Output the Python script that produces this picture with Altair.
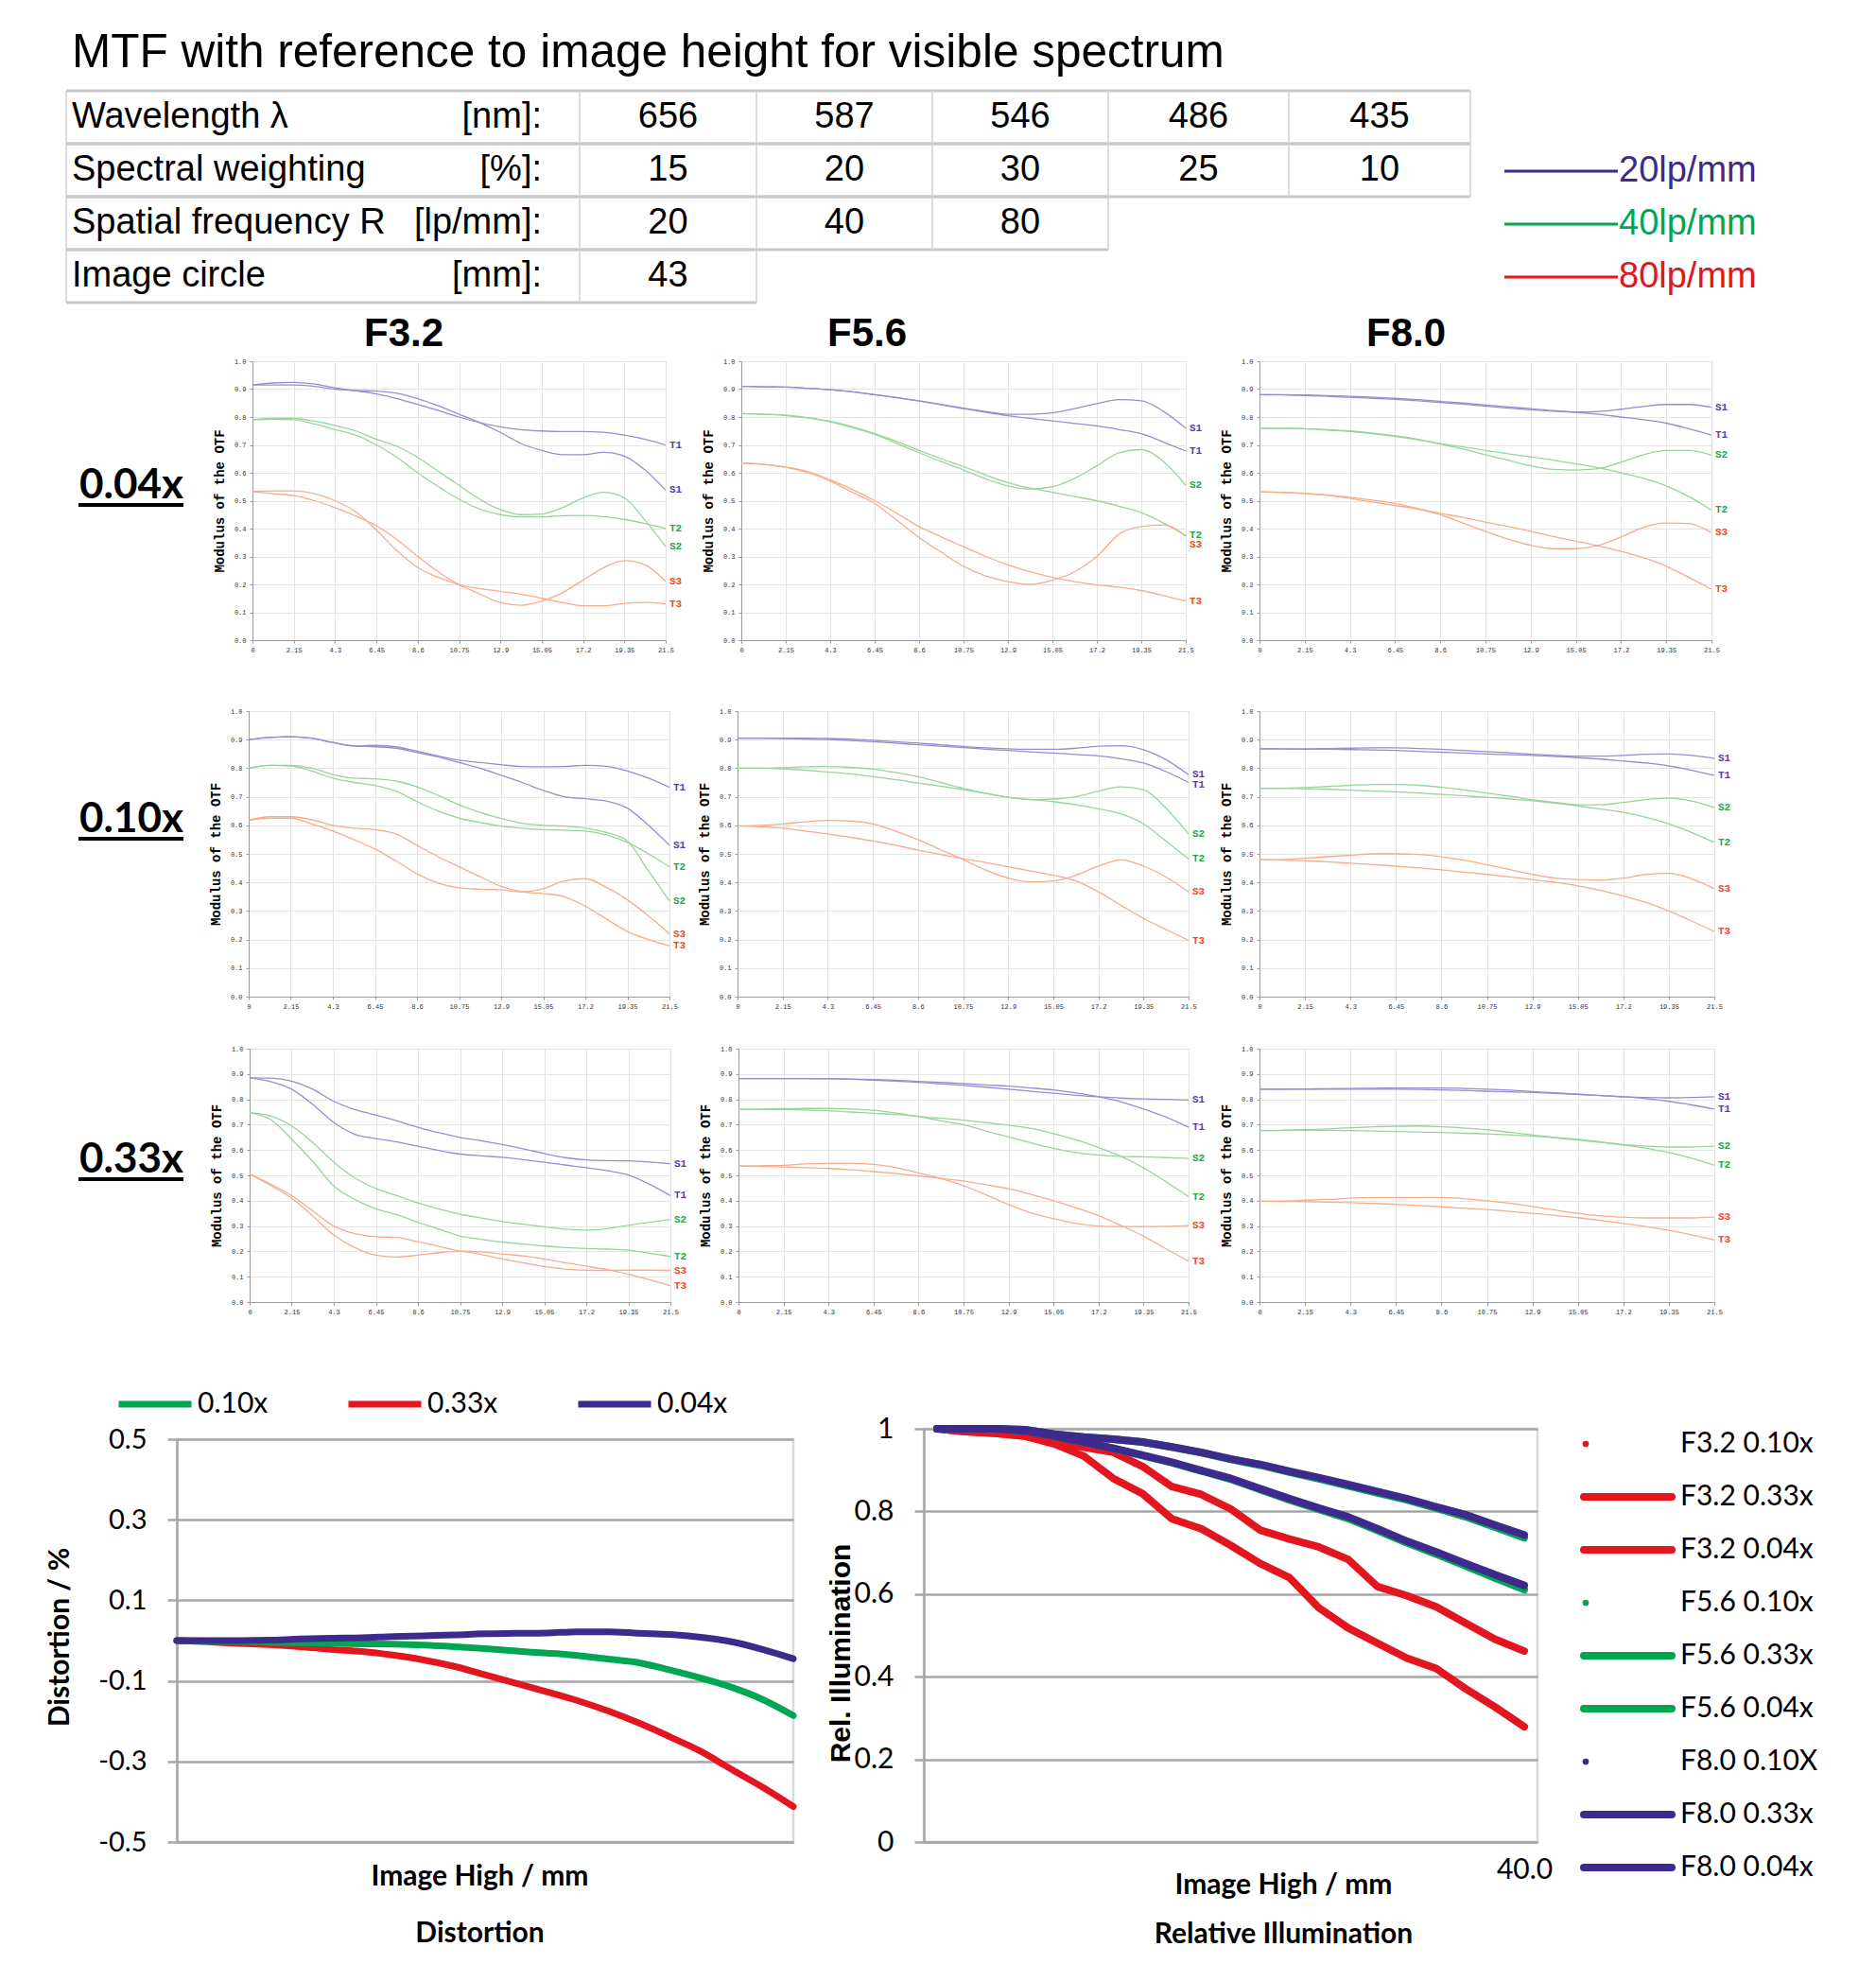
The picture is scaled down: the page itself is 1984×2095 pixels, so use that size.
import altair as alt
import pandas as pd

# ------------------------------------------------------------------ data
TITLE = "MTF with reference to image height for visible spectrum"
TABLE_LABELS = ["Wavelength λ", "Spectral weighting", "Spatial frequency R", "Image circle"]
TABLE_UNITS = ["[nm]:", "[%]:", "[lp/mm]:", "[mm]:"]
WAVELENGTHS = [656, 587, 546, 486, 435]
WEIGHTS = [15, 20, 30, 25, 10]
FREQUENCIES = [20, 40, 80]
IMAGE_CIRCLE = [43]
FREQ_LEGEND = ["20lp/mm", "40lp/mm", "80lp/mm"]
APERTURES = ["F3.2", "F5.6", "F8.0"]
MAGS = ["0.04x", "0.10x", "0.33x"]
CURVES = ["S1", "T1", "S2", "T2", "S3", "T3"]

IMAGE_HEIGHT = [0, 1.075, 2.15, 3.225, 4.3, 5.375, 6.45, 7.525, 8.6, 9.675, 10.75,
                11.825, 12.9, 13.975, 15.05, 16.125, 17.2, 18.275, 19.35, 20.425, 21.5]
X_TICKS = [0, 2.15, 4.3, 6.45, 8.6, 10.75, 12.9, 15.05, 17.2, 19.35, 21.5]
Y_TICKS = [0, 0.1, 0.2, 0.3, 0.4, 0.5, 0.6, 0.7, 0.8, 0.9, 1.0]

# F3.2 0.04x
F32_004_S1 = [0.915, 0.922, 0.924, 0.918, 0.905, 0.895, 0.893, 0.885, 0.866, 0.84, 0.81, 0.78, 0.745, 0.705, 0.68, 0.665, 0.665, 0.673, 0.66, 0.61, 0.538]
F32_004_T1 = [0.915, 0.915, 0.915, 0.91, 0.9, 0.894, 0.883, 0.866, 0.845, 0.823, 0.8, 0.78, 0.765, 0.755, 0.75, 0.748, 0.748, 0.745, 0.735, 0.72, 0.70]
F32_004_S2 = [0.79, 0.795, 0.795, 0.785, 0.77, 0.75, 0.72, 0.695, 0.655, 0.605, 0.555, 0.505, 0.468, 0.45, 0.452, 0.475, 0.51, 0.53, 0.51, 0.43, 0.335]
F32_004_T2 = [0.79, 0.792, 0.79, 0.775, 0.755, 0.735, 0.70, 0.655, 0.60, 0.55, 0.505, 0.47, 0.45, 0.442, 0.442, 0.446, 0.447, 0.443, 0.433, 0.418, 0.40]
F32_004_S3 = [0.533, 0.535, 0.535, 0.525, 0.50, 0.46, 0.395, 0.32, 0.26, 0.225, 0.198, 0.165, 0.135, 0.125, 0.14, 0.17, 0.215, 0.26, 0.285, 0.27, 0.21]
F32_004_T3 = [0.533, 0.525, 0.518, 0.50, 0.475, 0.445, 0.41, 0.36, 0.30, 0.245, 0.2, 0.185, 0.175, 0.165, 0.15, 0.135, 0.123, 0.123, 0.132, 0.135, 0.13]
# F5.6 0.04x
F56_004_S1 = [0.91, 0.908, 0.907, 0.903, 0.898, 0.89, 0.88, 0.87, 0.858, 0.845, 0.832, 0.82, 0.81, 0.81, 0.815, 0.83, 0.848, 0.862, 0.858, 0.82, 0.76]
F56_004_T1 = [0.91, 0.908, 0.907, 0.903, 0.898, 0.89, 0.88, 0.869, 0.857, 0.844, 0.83, 0.817, 0.805, 0.795, 0.786, 0.777, 0.768, 0.755, 0.74, 0.71, 0.678]
F56_004_S2 = [0.812, 0.81, 0.806, 0.797, 0.783, 0.762, 0.738, 0.705, 0.672, 0.64, 0.61, 0.578, 0.553, 0.542, 0.55, 0.58, 0.625, 0.672, 0.683, 0.64, 0.555]
F56_004_T2 = [0.812, 0.81, 0.806, 0.797, 0.785, 0.765, 0.74, 0.712, 0.68, 0.65, 0.622, 0.592, 0.565, 0.545, 0.53, 0.515, 0.5, 0.48, 0.457, 0.42, 0.375]
F56_004_S3 = [0.635, 0.63, 0.62, 0.6, 0.57, 0.53, 0.49, 0.43, 0.368, 0.315, 0.265, 0.23, 0.21, 0.2, 0.215, 0.245, 0.30, 0.38, 0.407, 0.413, 0.373]
F56_004_T3 = [0.635, 0.63, 0.62, 0.605, 0.575, 0.54, 0.5, 0.455, 0.407, 0.37, 0.335, 0.3, 0.27, 0.245, 0.225, 0.21, 0.198, 0.19, 0.178, 0.16, 0.14]
# F8.0 0.04x
F80_004_S1 = [0.88, 0.88, 0.879, 0.877, 0.874, 0.871, 0.867, 0.862, 0.856, 0.85, 0.843, 0.836, 0.83, 0.823, 0.818, 0.82, 0.828, 0.838, 0.845, 0.845, 0.835]
F80_004_T1 = [0.88, 0.879, 0.877, 0.874, 0.871, 0.867, 0.863, 0.858, 0.852, 0.846, 0.839, 0.832, 0.826, 0.821, 0.817, 0.81, 0.80, 0.79, 0.778, 0.758, 0.735]
F80_004_S2 = [0.76, 0.76, 0.758, 0.753, 0.748, 0.74, 0.73, 0.718, 0.703, 0.685, 0.665, 0.645, 0.625, 0.612, 0.61, 0.615, 0.638, 0.665, 0.68, 0.68, 0.663]
F80_004_T2 = [0.76, 0.76, 0.758, 0.755, 0.75, 0.742, 0.733, 0.72, 0.705, 0.693, 0.68, 0.668, 0.657, 0.645, 0.632, 0.618, 0.60, 0.58, 0.553, 0.515, 0.467]
F80_004_S3 = [0.532, 0.53, 0.527, 0.52, 0.508, 0.495, 0.483, 0.47, 0.45, 0.42, 0.39, 0.362, 0.34, 0.328, 0.328, 0.34, 0.37, 0.405, 0.42, 0.418, 0.385]
F80_004_T3 = [0.532, 0.53, 0.525, 0.52, 0.512, 0.502, 0.49, 0.472, 0.455, 0.44, 0.423, 0.408, 0.39, 0.372, 0.355, 0.338, 0.318, 0.295, 0.265, 0.225, 0.183]
# F3.2 0.10x
F32_010_S1 = [0.90, 0.908, 0.91, 0.905, 0.89, 0.878, 0.875, 0.87, 0.855, 0.84, 0.82, 0.80, 0.775, 0.75, 0.722, 0.70, 0.693, 0.685, 0.66, 0.60, 0.53]
F32_010_T1 = [0.90, 0.908, 0.91, 0.905, 0.89, 0.878, 0.88, 0.875, 0.86, 0.843, 0.828, 0.82, 0.812, 0.806, 0.805, 0.806, 0.81, 0.807, 0.79, 0.765, 0.733]
F32_010_S2 = [0.80, 0.81, 0.81, 0.80, 0.778, 0.765, 0.763, 0.755, 0.735, 0.705, 0.672, 0.645, 0.624, 0.607, 0.60, 0.597, 0.59, 0.575, 0.545, 0.44, 0.335]
F32_010_T2 = [0.80, 0.81, 0.808, 0.79, 0.765, 0.75, 0.74, 0.72, 0.683, 0.65, 0.625, 0.61, 0.597, 0.59, 0.585, 0.583, 0.58, 0.567, 0.54, 0.50, 0.455]
F32_010_S3 = [0.618, 0.625, 0.625, 0.605, 0.58, 0.55, 0.517, 0.475, 0.43, 0.398, 0.381, 0.376, 0.374, 0.367, 0.378, 0.405, 0.413, 0.383, 0.339, 0.283, 0.22]
F32_010_T3 = [0.618, 0.63, 0.63, 0.62, 0.60, 0.59, 0.585, 0.57, 0.53, 0.49, 0.455, 0.42, 0.386, 0.367, 0.361, 0.35, 0.317, 0.272, 0.228, 0.2, 0.178]
# F5.6 0.10x
F56_010_S1 = [0.905, 0.905, 0.905, 0.905, 0.904, 0.902, 0.898, 0.893, 0.888, 0.882, 0.876, 0.871, 0.868, 0.866, 0.866, 0.87, 0.877, 0.879, 0.865, 0.83, 0.777]
F56_010_T1 = [0.905, 0.905, 0.904, 0.902, 0.9, 0.897, 0.893, 0.888, 0.882, 0.877, 0.872, 0.866, 0.862, 0.857, 0.853, 0.848, 0.843, 0.833, 0.818, 0.788, 0.75]
F56_010_S2 = [0.80, 0.80, 0.802, 0.805, 0.806, 0.803, 0.797, 0.785, 0.77, 0.75, 0.73, 0.712, 0.698, 0.69, 0.692, 0.70, 0.72, 0.735, 0.725, 0.66, 0.57]
F56_010_T2 = [0.80, 0.80, 0.798, 0.793, 0.787, 0.78, 0.77, 0.76, 0.748, 0.737, 0.725, 0.712, 0.698, 0.69, 0.683, 0.672, 0.658, 0.64, 0.605, 0.545, 0.482]
F56_010_S3 = [0.598, 0.60, 0.605, 0.612, 0.617, 0.615, 0.605, 0.58, 0.55, 0.515, 0.48, 0.443, 0.415, 0.402, 0.405, 0.425, 0.457, 0.479, 0.457, 0.419, 0.367]
F56_010_T3 = [0.598, 0.595, 0.59, 0.58, 0.57, 0.558, 0.545, 0.53, 0.513, 0.498, 0.483, 0.47, 0.455, 0.44, 0.425, 0.405, 0.367, 0.32, 0.274, 0.235, 0.197]
# F8.0 0.10x
F80_010_S1 = [0.868, 0.868, 0.868, 0.869, 0.87, 0.871, 0.871, 0.869, 0.866, 0.862, 0.858, 0.854, 0.849, 0.845, 0.842, 0.842, 0.845, 0.849, 0.85, 0.845, 0.835]
F80_010_T1 = [0.868, 0.867, 0.866, 0.866, 0.865, 0.864, 0.862, 0.859, 0.856, 0.853, 0.85, 0.847, 0.845, 0.841, 0.837, 0.832, 0.825, 0.818, 0.808, 0.793, 0.775]
F80_010_S2 = [0.73, 0.73, 0.732, 0.736, 0.74, 0.743, 0.743, 0.74, 0.733, 0.724, 0.713, 0.702, 0.69, 0.68, 0.672, 0.672, 0.68, 0.69, 0.695, 0.685, 0.662]
F80_010_T2 = [0.73, 0.73, 0.728, 0.726, 0.723, 0.72, 0.717, 0.713, 0.708, 0.703, 0.698, 0.692, 0.686, 0.678, 0.668, 0.657, 0.645, 0.628, 0.605, 0.575, 0.54]
F80_010_S3 = [0.48, 0.48, 0.485, 0.49, 0.495, 0.50, 0.50, 0.498, 0.49, 0.478, 0.462, 0.445, 0.428, 0.415, 0.41, 0.408, 0.415, 0.428, 0.432, 0.413, 0.378]
F80_010_T3 = [0.48, 0.478, 0.476, 0.472, 0.467, 0.462, 0.457, 0.451, 0.444, 0.436, 0.428, 0.419, 0.41, 0.40, 0.388, 0.372, 0.352, 0.33, 0.30, 0.265, 0.228]
# F3.2 0.33x
F32_033_S1 = [0.885, 0.884, 0.872, 0.84, 0.792, 0.76, 0.738, 0.715, 0.69, 0.668, 0.65, 0.637, 0.622, 0.605, 0.586, 0.57, 0.561, 0.558, 0.557, 0.553, 0.546]
F32_033_T1 = [0.885, 0.87, 0.84, 0.78, 0.709, 0.662, 0.645, 0.632, 0.615, 0.598, 0.584, 0.577, 0.571, 0.562, 0.552, 0.541, 0.53, 0.518, 0.501, 0.465, 0.42]
F32_033_S2 = [0.748, 0.735, 0.695, 0.63, 0.552, 0.49, 0.448, 0.42, 0.391, 0.367, 0.347, 0.332, 0.318, 0.307, 0.297, 0.288, 0.284, 0.29, 0.303, 0.315, 0.325]
F32_033_T2 = [0.748, 0.72, 0.643, 0.555, 0.458, 0.405, 0.368, 0.345, 0.315, 0.288, 0.261, 0.248, 0.237, 0.229, 0.221, 0.215, 0.211, 0.209, 0.205, 0.193, 0.18]
F32_033_S3 = [0.505, 0.46, 0.41, 0.34, 0.265, 0.215, 0.185, 0.178, 0.185, 0.195, 0.2, 0.188, 0.17, 0.155, 0.14, 0.13, 0.126, 0.125, 0.126, 0.126, 0.125]
F32_033_T3 = [0.505, 0.465, 0.42, 0.36, 0.30, 0.27, 0.258, 0.255, 0.238, 0.22, 0.202, 0.198, 0.19, 0.182, 0.17, 0.155, 0.142, 0.128, 0.11, 0.088, 0.065]
# F5.6 0.33x
F56_033_S1 = [0.882, 0.882, 0.882, 0.882, 0.881, 0.879, 0.876, 0.872, 0.867, 0.861, 0.855, 0.848, 0.84, 0.832, 0.824, 0.816, 0.81, 0.805, 0.802, 0.80, 0.797]
F56_033_T1 = [0.882, 0.882, 0.882, 0.882, 0.882, 0.88, 0.878, 0.875, 0.871, 0.867, 0.862, 0.857, 0.852, 0.845, 0.837, 0.825, 0.81, 0.79, 0.762, 0.73, 0.69]
F56_033_S2 = [0.76, 0.76, 0.76, 0.758, 0.755, 0.75, 0.745, 0.74, 0.732, 0.715, 0.70, 0.675, 0.652, 0.628, 0.607, 0.59, 0.58, 0.575, 0.573, 0.57, 0.567]
F56_033_T2 = [0.76, 0.762, 0.763, 0.764, 0.764, 0.762, 0.757, 0.746, 0.733, 0.725, 0.718, 0.708, 0.698, 0.685, 0.665, 0.64, 0.61, 0.575, 0.53, 0.475, 0.416]
F56_033_S3 = [0.537, 0.538, 0.54, 0.545, 0.547, 0.547, 0.543, 0.53, 0.51, 0.487, 0.459, 0.423, 0.385, 0.352, 0.329, 0.31, 0.30, 0.298, 0.298, 0.299, 0.302]
F56_033_T3 = [0.537, 0.535, 0.533, 0.53, 0.527, 0.522, 0.515, 0.507, 0.498, 0.488, 0.478, 0.463, 0.447, 0.425, 0.40, 0.372, 0.341, 0.302, 0.26, 0.21, 0.162]
# F8.0 0.33x
F80_033_S1 = [0.84, 0.84, 0.841, 0.842, 0.843, 0.844, 0.845, 0.845, 0.845, 0.843, 0.84, 0.836, 0.831, 0.826, 0.82, 0.815, 0.81, 0.807, 0.806, 0.807, 0.81]
F80_033_T1 = [0.84, 0.84, 0.84, 0.84, 0.84, 0.84, 0.84, 0.839, 0.837, 0.835, 0.832, 0.83, 0.827, 0.823, 0.82, 0.815, 0.81, 0.803, 0.792, 0.778, 0.762]
F80_033_S2 = [0.677, 0.678, 0.68, 0.683, 0.688, 0.692, 0.694, 0.695, 0.692, 0.687, 0.68, 0.67, 0.66, 0.65, 0.642, 0.632, 0.622, 0.615, 0.612, 0.612, 0.615]
F80_033_T2 = [0.677, 0.677, 0.678, 0.678, 0.677, 0.675, 0.673, 0.671, 0.669, 0.666, 0.664, 0.66, 0.655, 0.648, 0.64, 0.63, 0.62, 0.607, 0.59, 0.568, 0.54]
F80_033_S3 = [0.398, 0.399, 0.402, 0.405, 0.41, 0.413, 0.413, 0.413, 0.413, 0.408, 0.40, 0.39, 0.377, 0.363, 0.35, 0.34, 0.335, 0.332, 0.332, 0.332, 0.335]
F80_033_T3 = [0.398, 0.397, 0.396, 0.394, 0.392, 0.389, 0.386, 0.381, 0.376, 0.37, 0.365, 0.358, 0.35, 0.342, 0.333, 0.322, 0.31, 0.298, 0.283, 0.265, 0.245]

# Distortion (%) vs image height
DIST_SERIES = ["0.10x", "0.33x", "0.04x"]
DIST_010 = [0, -0.001, -0.002, -0.004, -0.005, -0.007, -0.008, -0.009, -0.011, -0.015, -0.02, -0.026, -0.031, -0.037, -0.046, -0.055, -0.073, -0.093, -0.116, -0.146, -0.186]
DIST_033 = [0, -0.003, -0.007, -0.010, -0.015, -0.022, -0.027, -0.036, -0.048, -0.064, -0.085, -0.106, -0.127, -0.149, -0.175, -0.205, -0.239, -0.275, -0.32, -0.364, -0.412]
DIST_004 = [0, 0, 0, 0.001, 0.004, 0.006, 0.007, 0.010, 0.012, 0.014, 0.017, 0.018, 0.019, 0.022, 0.022, 0.018, 0.015, 0.008, -0.003, -0.022, -0.045]

# Relative illumination vs image height
RI_HEIGHT = [0, 2, 4, 6, 8, 10, 12, 14, 16, 18, 20, 22, 24, 26, 28, 30, 32, 34, 36, 38, 40]
RI_F32_004 = [1.0, 0.993, 0.989, 0.982, 0.970, 0.955, 0.943, 0.909, 0.860, 0.841, 0.806, 0.755, 0.733, 0.714, 0.684, 0.618, 0.596, 0.569, 0.530, 0.491, 0.462]
RI_F32_033 = [1.0, 0.993, 0.989, 0.982, 0.963, 0.934, 0.880, 0.843, 0.782, 0.758, 0.718, 0.674, 0.640, 0.567, 0.518, 0.481, 0.445, 0.420, 0.371, 0.327, 0.279]
RI_F56_004 = [1.0, 1.0, 1.0, 0.998, 0.987, 0.980, 0.975, 0.968, 0.956, 0.942, 0.926, 0.912, 0.895, 0.879, 0.862, 0.845, 0.828, 0.808, 0.787, 0.762, 0.736]
RI_F56_033 = [1.0, 1.0, 1.0, 0.995, 0.982, 0.968, 0.953, 0.935, 0.918, 0.898, 0.878, 0.853, 0.828, 0.805, 0.783, 0.754, 0.724, 0.697, 0.668, 0.639, 0.611]
RI_F80_004 = [1.0, 1.0, 1.0, 0.998, 0.987, 0.980, 0.975, 0.968, 0.956, 0.943, 0.927, 0.914, 0.897, 0.882, 0.865, 0.848, 0.831, 0.811, 0.792, 0.767, 0.743]
RI_F80_033 = [1.0, 1.0, 1.0, 0.995, 0.982, 0.968, 0.953, 0.936, 0.919, 0.899, 0.880, 0.855, 0.831, 0.808, 0.787, 0.758, 0.728, 0.702, 0.674, 0.647, 0.621]
RI_LEGEND = ["F3.2 0.10x", "F3.2 0.33x", "F3.2 0.04x", "F5.6 0.10x", "F5.6 0.33x",
             "F5.6 0.04x", "F8.0 0.10X", "F8.0 0.33x", "F8.0 0.04x"]

MTF = {
    ("F3.2", "0.04x"): [F32_004_S1, F32_004_T1, F32_004_S2, F32_004_T2, F32_004_S3, F32_004_T3],
    ("F5.6", "0.04x"): [F56_004_S1, F56_004_T1, F56_004_S2, F56_004_T2, F56_004_S3, F56_004_T3],
    ("F8.0", "0.04x"): [F80_004_S1, F80_004_T1, F80_004_S2, F80_004_T2, F80_004_S3, F80_004_T3],
    ("F3.2", "0.10x"): [F32_010_S1, F32_010_T1, F32_010_S2, F32_010_T2, F32_010_S3, F32_010_T3],
    ("F5.6", "0.10x"): [F56_010_S1, F56_010_T1, F56_010_S2, F56_010_T2, F56_010_S3, F56_010_T3],
    ("F8.0", "0.10x"): [F80_010_S1, F80_010_T1, F80_010_S2, F80_010_T2, F80_010_S3, F80_010_T3],
    ("F3.2", "0.33x"): [F32_033_S1, F32_033_T1, F32_033_S2, F32_033_T2, F32_033_S3, F32_033_T3],
    ("F5.6", "0.33x"): [F56_033_S1, F56_033_T1, F56_033_S2, F56_033_T2, F56_033_S3, F56_033_T3],
    ("F8.0", "0.33x"): [F80_033_S1, F80_033_T1, F80_033_S2, F80_033_T2, F80_033_S3, F80_033_T3],
}

# ------------------------------------------------------------------ styles / layout (page pixels)
PURPLE, GREEN, RED = "#3d2a8c", "#00a651", "#e3151e"
MTF_LINE = {"1": "#9a8cd0", "2": "#98d49c", "3": "#f5ad8c"}
MTF_LABEL = {"1": "#5a3ea6", "2": "#25a84a", "3": "#f04a26"}
SANS, MONO, CAL = "Liberation Sans", "Liberation Mono", "Lato"
AX_GRAY = "#a6a6a6"
NO_FRAME = alt.ViewBackground(stroke="transparent", strokeWidth=0)

HW, HH = 1960, 374
COL_EDGES = [59, 602, 789, 975, 1161, 1352, 1544]
ROW_EDGES = [88, 144, 200, 256, 312]
PANEL_LEFT = [[264, 781, 1329], [260, 777, 1329], [261, 778, 1329]]
PANEL_W = [[437, 470, 478], [445, 477, 481], [445, 476, 481]]
ROW_H = [295, 302, 268]
ROW_GAP_AFTER = [75, 55, 134]
ROW_LABEL_Y = [132, 115, 118]


def pxs(n):
    return alt.Scale(domain=[0, n], range=[0, n], nice=False, zero=False)


def spacer(w, h):
    return alt.Chart(pd.DataFrame({"a": [0]})).mark_point(opacity=0).encode(
        x=alt.X("a:Q", axis=None), y=alt.Y("a:Q", axis=None)
    ).properties(width=w, height=h, view=NO_FRAME)


def indep(c):
    return c.resolve_scale(x="independent", y="independent", color="independent")


# ------------------------------------------------------------------ header
row_values = [WAVELENGTHS, WEIGHTS, FREQUENCIES, IMAGE_CIRCLE]
hl, vl, t_left, t_right, t_mid = [], [], [], [], []
for r, vals in enumerate(row_values):
    n = 1 + len(vals)
    top, bot = ROW_EDGES[r], ROW_EDGES[r + 1]
    cy = (top + bot) / 2
    hl.append({"x": COL_EDGES[0], "x2": COL_EDGES[n], "y": top})
    hl.append({"x": COL_EDGES[0], "x2": COL_EDGES[n], "y": bot})
    for c in range(n + 1):
        vl.append({"x": COL_EDGES[c], "y": top, "y2": bot})
    t_left.append({"x": COL_EDGES[0] + 6, "y": cy, "t": TABLE_LABELS[r]})
    t_right.append({"x": COL_EDGES[1] - 40, "y": cy, "t": TABLE_UNITS[r]})
    for c, v in enumerate(vals):
        t_mid.append({"x": (COL_EDGES[c + 1] + COL_EDGES[c + 2]) / 2, "y": cy, "t": str(v)})

X = lambda: alt.X("x:Q", scale=pxs(HW), axis=None)
Y = lambda: alt.Y("y:Q", scale=pxs(HH), axis=None)

title_l = alt.Chart(pd.DataFrame([{"x": 65, "y": 48, "t": TITLE}])).mark_text(
    align="left", baseline="middle", font=SANS, fontSize=49.5, color="black"
).encode(x=X(), y=Y(), text="t:N")
hl_l = alt.Chart(pd.DataFrame(hl)).mark_rule(color="#c9c9c9", strokeWidth=3).encode(x=X(), x2="x2:Q", y=Y())
vl_l = alt.Chart(pd.DataFrame(vl)).mark_rule(color="#d2d2d2", strokeWidth=1.5).encode(x=X(), y=Y(), y2="y2:Q")
tl_l = alt.Chart(pd.DataFrame(t_left)).mark_text(align="left", baseline="middle", font=SANS, fontSize=38, color="black").encode(x=X(), y=Y(), text="t:N")
tr_l = alt.Chart(pd.DataFrame(t_right)).mark_text(align="right", baseline="middle", font=SANS, fontSize=38, color="black").encode(x=X(), y=Y(), text="t:N")
tm_l = alt.Chart(pd.DataFrame(t_mid)).mark_text(align="center", baseline="middle", font=SANS, fontSize=38, color="black").encode(x=X(), y=Y(), text="t:N")

leg_cols = [PURPLE, GREEN, RED]
leg_y = [173, 229, 285]
leg_lines = pd.DataFrame([{"x": 1580, "x2": 1700, "y": leg_y[i], "c": leg_cols[i]} for i in range(3)])
leg_text = pd.DataFrame([{"x": 1701, "y": leg_y[i], "t": FREQ_LEGEND[i], "c": leg_cols[i]} for i in range(3)])
ll_l = alt.Chart(leg_lines).mark_rule(strokeWidth=3).encode(x=X(), x2="x2:Q", y=Y(), color=alt.Color("c:N", scale=None))
lt_l = alt.Chart(leg_text).mark_text(align="left", baseline="middle", font=SANS, fontSize=38).encode(
    x=X(), y=Y(), text="t:N", color=alt.Color("c:N", scale=None))
col_hdr = pd.DataFrame([{"x": x, "y": 345, "t": a} for x, a in zip([416, 906, 1476], APERTURES)])
ch_l = alt.Chart(col_hdr).mark_text(align="center", baseline="middle", font=SANS, fontSize=42, fontWeight="bold", color="black").encode(x=X(), y=Y(), text="t:N")

header = alt.layer(title_l, hl_l, vl_l, tl_l, tr_l, tm_l, ll_l, lt_l, ch_l).properties(
    width=HW, height=HH, view=NO_FRAME)


# ------------------------------------------------------------------ MTF panels
def row_label(mag, w, h, cy):
    t = alt.Chart(pd.DataFrame([{"x": 128, "y": cy, "t": mag}])).mark_text(
        align="center", baseline="middle", font=CAL, fontSize=44, fontWeight="bold", color="black"
    ).encode(x=alt.X("x:Q", scale=pxs(w), axis=None), y=alt.Y("y:Q", scale=pxs(h), axis=None), text="t:N")
    u = alt.Chart(pd.DataFrame([{"x": 72, "x2": 183, "y": cy + 20}])).mark_rule(strokeWidth=4, color="black").encode(
        x=alt.X("x:Q", scale=pxs(w), axis=None), x2="x2:Q", y=alt.Y("y:Q", scale=pxs(h), axis=None))
    return alt.layer(t, u).properties(width=w, height=h, view=NO_FRAME)


def mtf_panel(ap, mag, w, h):
    curves = MTF[(ap, mag)]
    rows = []
    for name, vals in zip(CURVES, curves):
        for x, v in zip(IMAGE_HEIGHT, vals):
            rows.append({"x": x, "v": v, "curve": name, "col": MTF_LINE[name[1]]})
    ends = sorted([(vals[-1], name) for name, vals in zip(CURVES, curves)], reverse=True)
    labs, prev = [], None
    for v, name in ends:
        y = v if prev is None else min(v, prev - 0.034)
        labs.append({"x": IMAGE_HEIGHT[-1], "v": y, "t": name, "col": MTF_LABEL[name[1]]})
        prev = y
    xenc = alt.X("x:Q", scale=alt.Scale(domain=[0, 21.5], nice=False, zero=False),
                 axis=alt.Axis(values=X_TICKS, format=".2~f", labelFont=MONO, labelFontSize=7,
                               labelColor="#333333", labelFlush=False, labelOverlap=False, labelPadding=3,
                               tickSize=3, tickColor="#9a9a9a", domainColor="#9a9a9a",
                               gridColor="#e4e4e4", title=None))
    yenc = alt.Y("v:Q", scale=alt.Scale(domain=[0, 1], nice=False),
                 axis=alt.Axis(values=Y_TICKS, format=".1f", labelFont=MONO, labelFontSize=7,
                               labelColor="#333333", labelOverlap=False, labelPadding=4, tickSize=3,
                               tickColor="#9a9a9a", domainColor="#9a9a9a", gridColor="#e4e4e4",
                               title="Modulus of the OTF", titleFont=MONO, titleFontSize=14,
                               titleFontWeight="bold", titleColor="black", titleX=-35, titleY=h / 2,
                               titleAngle=-90, titleAlign="center", titleBaseline="middle"))
    lines = alt.Chart(pd.DataFrame(rows)).mark_line(strokeWidth=1.3, interpolate="monotone").encode(
        x=xenc, y=yenc, color=alt.Color("col:N", scale=None), detail="curve:N")
    labels = alt.Chart(pd.DataFrame(labs)).mark_text(
        align="left", baseline="middle", dx=4, font=MONO, fontSize=11, fontWeight="bold"
    ).encode(x=xenc, y=yenc, text="t:N", color=alt.Color("col:N", scale=None))
    return alt.layer(lines, labels).properties(
        width=w, height=h, view=alt.ViewBackground(stroke="#9a9a9a", strokeWidth=1))


# ------------------------------------------------------------------ distortion
DLEFT, DW, DH, DTOP_OFFSET = 184, 652, 426, 11
dist_rows = []
for s, vals in zip(DIST_SERIES, [DIST_010, DIST_033, DIST_004]):
    for x, v in zip(IMAGE_HEIGHT, vals):
        dist_rows.append({"x": x, "v": v, "series": s})
dist_df = pd.DataFrame(dist_rows)
dx_enc = alt.X("x:Q", scale=alt.Scale(domain=[0, 21.5], nice=False, zero=False),
               axis=alt.Axis(labels=False, ticks=False, grid=False, domainColor=AX_GRAY, domainWidth=2.5,
                             title=["Image High / mm", "Distortion"], titleFont=CAL, titleFontSize=30,
                             titleFontWeight="bold", titleColor="black", titleX=320, titleY=21,
                             titleAlign="center", titleBaseline="top", titleLineHeight=60))
dy_enc = alt.Y("v:Q", scale=alt.Scale(domain=[-0.5, 0.5], nice=False, zero=False),
               axis=alt.Axis(values=[-0.5, -0.3, -0.1, 0.1, 0.3, 0.5],
                             labelExpr="(datum.value < 0 ? '-' : '') + format(abs(datum.value), '.1f')",
                             labelFont=CAL, labelFontSize=29, labelColor="black", labelPadding=22,
                             tickSize=10, tickColor=AX_GRAY, tickWidth=2.5, domainColor=AX_GRAY,
                             domainWidth=2.5, gridColor=AX_GRAY, gridWidth=2.5,
                             title="Distortion / %", titleFont=CAL, titleFontSize=30, titleFontWeight="bold",
                             titleColor="black", titleX=-124, titleY=209, titleAngle=-90,
                             titleAlign="center", titleBaseline="middle"))
dcolor = alt.Color("series:N", scale=alt.Scale(domain=DIST_SERIES, range=[GREEN, RED, PURPLE]),
                   legend=alt.Legend(orient="none", legendX=-65, legendY=-79, direction="horizontal",
                                     title=None, symbolType="stroke", symbolSize=5929, symbolStrokeWidth=7,
                                     labelFont=CAL, labelFontSize=30, labelColor="black", columnPadding=70,
                                     labelOffset=3, padding=0))
dist_layers = [
    alt.Chart(dist_df).transform_filter(alt.datum.series == s).mark_line(
        strokeWidth=7, strokeCap="round", strokeJoin="round", interpolate="monotone"
    ).encode(x=dx_enc, y=dy_enc, color=dcolor)
    for s in ["0.33x", "0.10x", "0.04x"]
]
distortion = alt.layer(*dist_layers).properties(
    width=DW, height=DH, view=alt.ViewBackground(stroke="#d9d9d9", strokeWidth=2.5))

# ------------------------------------------------------------------ relative illumination
RLEFT, RW, RH = 974, 649, 437
ri_series = [("F3.2 0.04x", RI_F32_004, RED), ("F3.2 0.33x", RI_F32_033, RED),
             ("F5.6 0.04x", RI_F56_004, GREEN), ("F5.6 0.33x", RI_F56_033, GREEN),
             ("F8.0 0.04x", RI_F80_004, PURPLE), ("F8.0 0.33x", RI_F80_033, PURPLE)]
ri_rows = []
for name, vals, col in ri_series:
    for x, v in zip(RI_HEIGHT, vals):
        ri_rows.append({"x": x, "v": v, "series": name, "ap": name[:4], "col": col})
ri_df = pd.DataFrame(ri_rows)
rx_enc = alt.X("x:Q", scale=alt.Scale(domain=[-0.9, 40.9], nice=False, zero=False),
               axis=alt.Axis(values=[40], format=".1f", labelFont=CAL, labelFontSize=30, labelColor="black",
                             labelPadding=14, ticks=False, grid=False, domainColor=AX_GRAY, domainWidth=2.5,
                             title=["Image High / mm", "Relative Illumination"], titleFont=CAL,
                             titleFontSize=30, titleFontWeight="bold", titleColor="black", titleX=380,
                             titleY=30, titleAlign="center", titleBaseline="top", titleLineHeight=52))
ry_enc = alt.Y("v:Q", scale=alt.Scale(domain=[0, 1], nice=False),
               axis=alt.Axis(values=[0, 0.2, 0.4, 0.6, 0.8, 1.0], format=".1~f", labelFont=CAL,
                             labelFontSize=30, labelColor="black", labelPadding=22, tickSize=10,
                             tickColor=AX_GRAY, tickWidth=2.5, domainColor=AX_GRAY, domainWidth=2.5,
                             gridColor=AX_GRAY, gridWidth=2.5, title="Rel. Illumination", titleFont=SANS,
                             titleFontSize=30, titleFontWeight="bold", titleColor="black", titleX=-88,
                             titleY=237, titleAngle=-90, titleAlign="center", titleBaseline="middle"))
ri_layers = [
    alt.Chart(ri_df).transform_filter(alt.datum.ap == ap).mark_line(
        strokeWidth=8, strokeCap="round", strokeJoin="round"
    ).encode(x=rx_enc, y=ry_enc, color=alt.Color("col:N", scale=None), detail="series:N")
    for ap in APERTURES
]
rel = alt.layer(*ri_layers).properties(
    width=RW, height=RH, view=alt.ViewBackground(stroke="#d9d9d9", strokeWidth=2.5))

leg_df = pd.DataFrame([{"name": n, "col": [RED, GREEN, PURPLE][i // 3],
                        "kind": "dot" if "0.10" in n else "line"} for i, n in enumerate(RI_LEGEND)])
LGW, LGH = 340, 480
ly = alt.Y("name:N", scale=alt.Scale(type="point", domain=RI_LEGEND, range=[16, 464], padding=0), axis=None)
lg_lines = alt.Chart(leg_df).transform_filter(alt.datum.kind == "line").mark_rule(
    strokeWidth=8, strokeCap="round").encode(
    x=alt.value(49), x2=alt.value(142), y=ly, color=alt.Color("col:N", scale=None))
lg_dots = alt.Chart(leg_df).transform_filter(alt.datum.kind == "dot").mark_circle(size=45, opacity=1).encode(
    x=alt.value(51), y=ly, color=alt.Color("col:N", scale=None))
lg_text = alt.Chart(leg_df).mark_text(align="left", baseline="middle", font=CAL, fontSize=30, color="black").encode(
    x=alt.value(151), y=ly, text="name:N")
rel_legend = alt.layer(lg_lines, lg_dots, lg_text).properties(width=LGW, height=LGH, view=NO_FRAME)

# ------------------------------------------------------------------ assembly
# With bounds="flush" a nested concat counts as zero-sized, so the spacer that
# follows a nested row carries that row's size as well.
parts = [header]
for ri, mag in enumerate(MAGS):
    h = ROW_H[ri]
    L, W = PANEL_LEFT[ri], PANEL_W[ri]
    row = indep(alt.hconcat(
        row_label(mag, L[0] - 8, h, ROW_LABEL_Y[ri]),
        mtf_panel(APERTURES[0], mag, W[0], h), spacer(L[1] - L[0] - W[0], h),
        mtf_panel(APERTURES[1], mag, W[1], h), spacer(L[2] - L[1] - W[1], h),
        mtf_panel(APERTURES[2], mag, W[2], h),
        spacing=0, bounds="flush"))
    parts += [row, spacer(1, h + ROW_GAP_AFTER[ri])]

dist_col = indep(alt.vconcat(spacer(1, DTOP_OFFSET), distortion, spacing=0, bounds="flush"))
bottom = indep(alt.hconcat(
    spacer(DLEFT - 8, RH), dist_col, spacer(RLEFT - DLEFT, RH), rel, rel_legend,
    spacing=0, bounds="flush"))
parts.append(bottom)

chart = indep(alt.vconcat(*parts, spacing=0, bounds="flush")).properties(
    padding=0, background="white").configure_view(stroke="transparent", strokeWidth=0)

chart.save("out.html", embed_options={"renderer": "svg", "actions": False})
